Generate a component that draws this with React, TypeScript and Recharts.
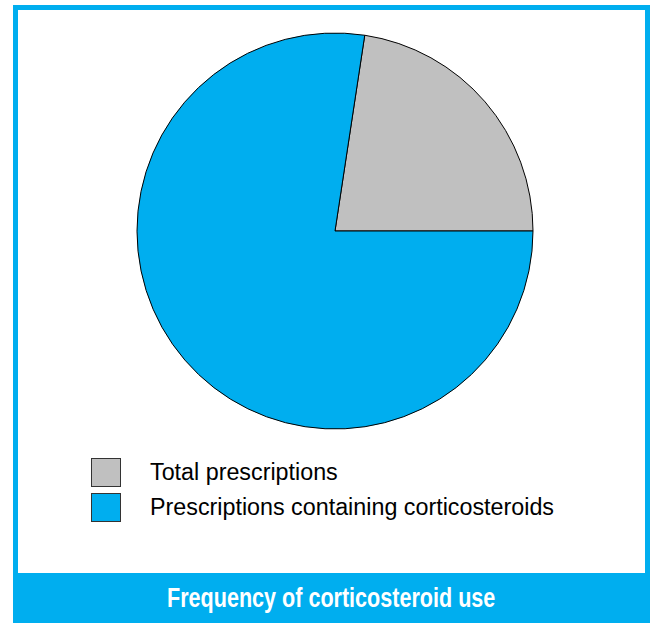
import { PieChart, Pie, Cell, Legend } from "recharts";

const sliceNames = ["Total prescriptions", "Prescriptions containing corticosteroids"];
const sliceValues = [22.6, 77.4];
const sliceColors = ["#c0c0c0", "#00aeef"];
const title = "Frequency of corticosteroid use";

const data = sliceNames.map((name, i) => ({ name, value: sliceValues[i] }));

const BLUE = "#00aeef";

function LegendBox() {
  return (
    <div style={{ fontFamily: "'Liberation Sans', Arial, sans-serif", fontSize: 23.3 }}>
      {data.map((d, i) => (
        <div key={d.name} style={{ display: "flex", alignItems: "center", height: 35 }}>
          <div
            style={{
              width: 30,
              height: 29,
              background: sliceColors[i],
              border: "1px solid #333",
              boxSizing: "border-box",
              marginRight: 29,
            }}
          />
          <span style={{ color: "#000" }}>{d.name}</span>
        </div>
      ))}
    </div>
  );
}

export default function App() {
  return (
    <div style={{ position: "absolute", left: 0, top: 0, width: 652, height: 623, background: "#fff" }}>
      <div
        style={{
          position: "absolute",
          left: 13,
          top: 5,
          width: 637,
          height: 618,
          border: `5px solid ${BLUE}`,
          borderBottom: "none",
          boxSizing: "border-box",
        }}
      />
      <PieChart
        width={652}
        height={623}
        margin={{ top: 0, right: 0, bottom: 0, left: 0 }}
        style={{ position: "absolute", left: 0, top: 0 }}
      >
        <Pie
          data={data}
          dataKey="value"
          nameKey="name"
          cx={335}
          cy={231}
          outerRadius={198}
          startAngle={0}
          endAngle={360}
          stroke="#000"
          strokeWidth={1}
          isAnimationActive={false}
        >
          {data.map((d, i) => (
            <Cell key={d.name} fill={sliceColors[i]} />
          ))}
        </Pie>
        <Legend
          layout="vertical"
          content={() => <LegendBox />}
          wrapperStyle={{ position: "absolute", left: 91, top: 455, width: 520 }}
        />
      </PieChart>
      <div
        style={{
          position: "absolute",
          left: 13,
          top: 573,
          width: 637,
          height: 50,
          background: BLUE,
          color: "#fff",
          display: "flex",
          alignItems: "center",
          justifyContent: "center",
          fontFamily: "'Liberation Sans', Arial, sans-serif",
          fontWeight: "bold",
          fontSize: 28,
        }}
      >
        <span style={{ display: "inline-block", transform: "scaleX(0.77)", whiteSpace: "nowrap" }}>{title}</span>
      </div>
    </div>
  );
}
